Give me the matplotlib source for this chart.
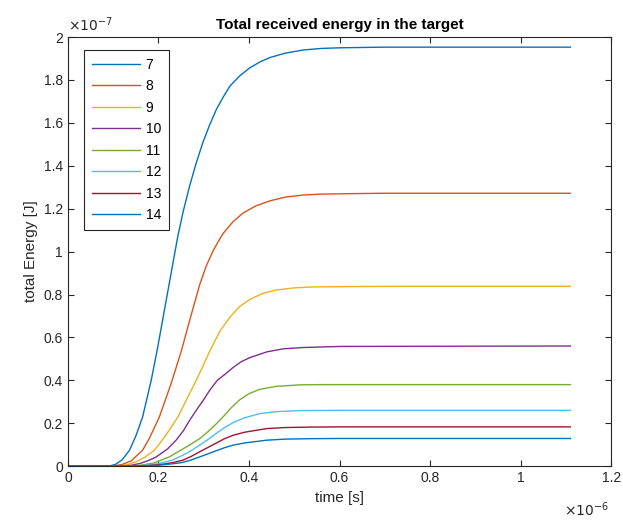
import matplotlib
matplotlib.use("Agg")
import matplotlib.pyplot as plt
from matplotlib.ticker import FuncFormatter, MultipleLocator

plt.rcParams['font.family'] = ['Liberation Sans', 'DejaVu Sans']

# time in microseconds, energy in units of 1e-7 J
t7 = [0, 0.09, 0.105, 0.12, 0.136, 0.15, 0.165, 0.184, 0.198, 0.21, 0.222, 0.243, 0.255,
      0.269, 0.283, 0.298, 0.313, 0.328, 0.343, 0.358, 0.38, 0.402, 0.425, 0.447, 0.48,
      0.521, 0.56, 0.602, 0.7, 1.11]
e7 = [0, 0, 0.008, 0.03, 0.074, 0.14, 0.229, 0.40, 0.55, 0.69, 0.83, 1.074, 1.19,
      1.307, 1.41, 1.508, 1.59, 1.663, 1.72, 1.772, 1.82, 1.857, 1.885, 1.905, 1.925,
      1.94, 1.947, 1.95, 1.953, 1.953]
t8 = [0, 0.10, 0.12, 0.14, 0.165, 0.18, 0.202, 0.228, 0.251, 0.269, 0.291, 0.305, 0.321,
      0.333, 0.343, 0.365, 0.387, 0.415, 0.447, 0.48, 0.521, 0.56, 0.62, 0.7, 1.11]
e8 = [0, 0, 0.008, 0.025, 0.074, 0.13, 0.229, 0.385, 0.54, 0.68, 0.845, 0.93, 1.005,
      1.05, 1.085, 1.14, 1.18, 1.213, 1.237, 1.254, 1.264, 1.268, 1.27, 1.272, 1.272]
t9 = [0, 0.11, 0.13, 0.15, 0.17, 0.191, 0.215, 0.243, 0.262, 0.28, 0.297, 0.313, 0.336,
      0.36, 0.38, 0.40, 0.43, 0.46, 0.5, 0.536, 0.62, 0.7, 1.11]
e9 = [0, 0, 0.006, 0.02, 0.042, 0.074, 0.14, 0.229, 0.31, 0.385, 0.46, 0.535, 0.63,
      0.70, 0.745, 0.775, 0.805, 0.821, 0.831, 0.835, 0.837, 0.838, 0.838]
t10 = [0, 0.12, 0.14, 0.16, 0.18, 0.195, 0.22, 0.239, 0.255, 0.269, 0.285, 0.3, 0.313,
       0.33, 0.348, 0.365, 0.383, 0.402, 0.44, 0.476, 0.52, 0.602, 1.11]
e10 = [0, 0, 0.004, 0.013, 0.028, 0.043, 0.08, 0.121, 0.165, 0.214, 0.265, 0.31, 0.353,
       0.40, 0.43, 0.46, 0.487, 0.506, 0.533, 0.547, 0.553, 0.558, 0.56]
t11 = [0, 0.13, 0.16, 0.19, 0.224, 0.25, 0.27, 0.291, 0.31, 0.328, 0.345, 0.362, 0.38,
       0.40, 0.424, 0.46, 0.513, 0.56, 1.11]
e11 = [0, 0, 0.004, 0.015, 0.043, 0.075, 0.10, 0.128, 0.162, 0.198, 0.235, 0.275, 0.31,
       0.338, 0.358, 0.372, 0.379, 0.38, 0.38]
t12 = [0, 0.14, 0.17, 0.2, 0.231, 0.254, 0.272, 0.291, 0.31, 0.328, 0.346, 0.365, 0.39,
       0.424, 0.46, 0.513, 0.6, 1.11]
e12 = [0, 0, 0.004, 0.012, 0.028, 0.051, 0.072, 0.098, 0.125, 0.153, 0.18, 0.203, 0.225,
       0.245, 0.254, 0.259, 0.26, 0.26]
t13 = [0, 0.15, 0.18, 0.21, 0.233, 0.254, 0.272, 0.291, 0.31, 0.328, 0.346, 0.365, 0.39,
       0.439, 0.48, 0.536, 0.6, 1.11]
e13 = [0, 0, 0.003, 0.009, 0.017, 0.028, 0.045, 0.067, 0.088, 0.108, 0.128, 0.144, 0.158,
       0.175, 0.18, 0.182, 0.183, 0.183]
t14 = [0, 0.16, 0.19, 0.22, 0.25, 0.27, 0.291, 0.31, 0.328, 0.346, 0.365, 0.39, 0.439,
       0.48, 0.536, 0.6, 1.11]
e14 = [0, 0, 0.003, 0.008, 0.016, 0.027, 0.043, 0.058, 0.072, 0.086, 0.098, 0.108, 0.121,
       0.126, 0.128, 0.129, 0.129]

labels = ['7', '8', '9', '10', '11', '12', '13', '14']
times = [t7, t8, t9, t10, t11, t12, t13, t14]
energies = [e7, e8, e9, e10, e11, e12, e13, e14]
colors = ['#0072BD', '#D95319', '#EDB120', '#7E2F8E', '#77AC30', '#4DBEEE', '#A2142F', '#0072BD']

fig = plt.figure(figsize=(6.23, 5.22), dpi=100)
ax = fig.add_axes([0.109, 0.107, 0.872, 0.822])

for t, e, c, lab in zip(times, energies, colors, labels):
    ax.plot([v * 1e-6 for v in t], [v * 1e-7 for v in e], color=c, lw=1.0, label=lab)

ax.set_xlim(0, 1.2e-6)
ax.set_ylim(0, 2e-7)
ax.xaxis.set_major_locator(MultipleLocator(0.2e-6))
ax.yaxis.set_major_locator(MultipleLocator(0.2e-7))
ax.xaxis.set_major_formatter(FuncFormatter(lambda x, p: f'{x / 1e-6:g}'))
ax.yaxis.set_major_formatter(FuncFormatter(lambda y, p: f'{y / 1e-7:g}'))

ax.tick_params(direction='in', top=True, right=True, length=4, width=0.8,
               colors='#262626', labelsize=10, labelcolor='#262626')
for s in ax.spines.values():
    s.set_color('#262626')
    s.set_linewidth(0.8)

ax.set_title('Total received energy in the target', fontsize=11, fontweight='bold',
             color='black', pad=6)
ax.set_xlabel('time [s]', fontsize=11, color='#262626', labelpad=4)
ax.set_ylabel('total Energy [J]', fontsize=11, color='#262626', labelpad=4)

ax.text(0.0, 1.008, r'$\times10^{-7}$', transform=ax.transAxes, fontsize=10,
        color='#262626', ha='left', va='bottom')
ax.text(0.997, -0.08, r'$\times10^{-6}$', transform=ax.transAxes, fontsize=10,
        color='#262626', ha='right', va='top')

leg = ax.legend(loc='upper left', fontsize=10, fancybox=False, framealpha=1,
                edgecolor='#262626', handlelength=3.5, handletextpad=0.4,
                labelspacing=0.54, borderpad=0.55, borderaxespad=0,
                bbox_to_anchor=(0.0295, 0.970))
leg.get_frame().set_linewidth(0.8)

fig.savefig('out.png', dpi=100)
